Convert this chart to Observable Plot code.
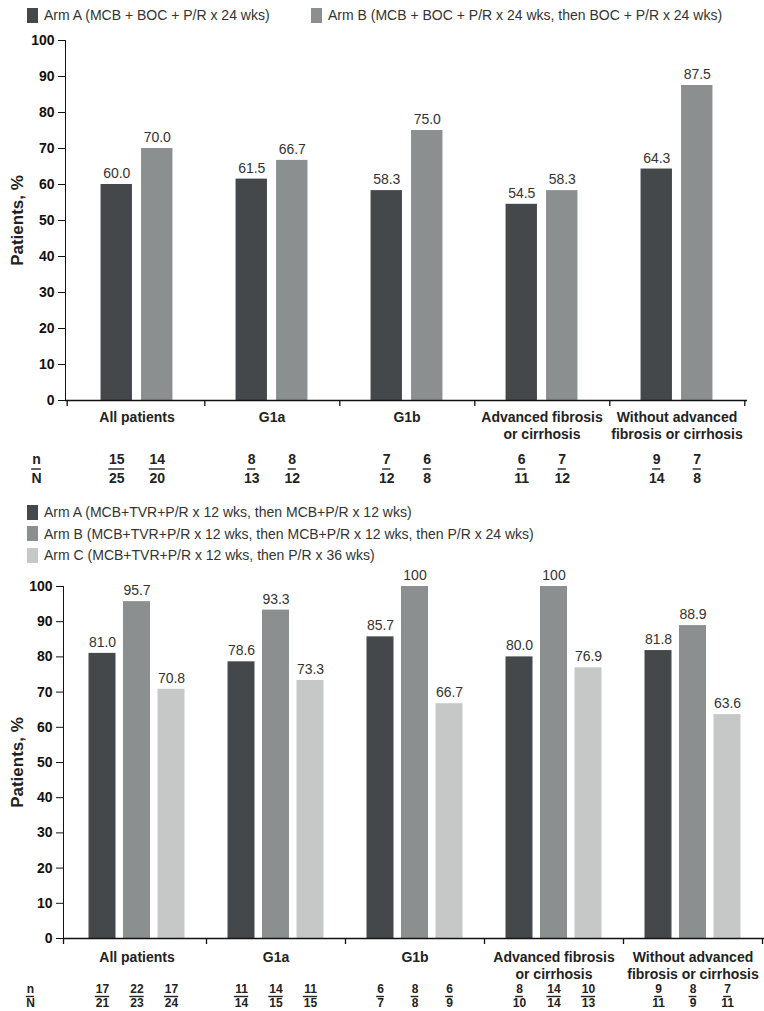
<!DOCTYPE html>
<html><head><meta charset="utf-8">
<script src="https://cdn.jsdelivr.net/npm/d3@7"></script>
<script src="https://cdn.jsdelivr.net/npm/@observablehq/plot@0.6"></script>
<style>
body{margin:0;background:#fff;}
#root{position:relative;width:764px;height:1011px;overflow:hidden;font-family:"Liberation Sans",Arial,sans-serif;}
.leg{position:absolute;display:flex;align-items:center;font-size:14px;color:#333;white-space:nowrap;}
.sw{width:11px;height:15px;margin-right:6px;}
.chart{position:absolute;left:0;}
</style></head><body><div id="root"></div>
<script>
// ---------- data ----------
const categories = ["All patients", "G1a", "G1b", "Advanced fibrosis\nor cirrhosis", "Without advanced\nfibrosis or cirrhosis"];

// Top chart
const topArms = ["Arm A (MCB + BOC + P/R x 24 wks)", "Arm B (MCB + BOC + P/R x 24 wks, then BOC + P/R x 24 wks)"];
const topArmA = [60.0, 61.5, 58.3, 54.5, 64.3];
const topArmB = [70.0, 66.7, 75.0, 58.3, 87.5];
const topArmA_n = [15, 8, 7, 6, 9];
const topArmA_N = [25, 13, 12, 11, 14];
const topArmB_n = [14, 8, 6, 7, 7];
const topArmB_N = [20, 12, 8, 12, 8];

// Bottom chart
const botArms = ["Arm A (MCB+TVR+P/R x 12 wks, then MCB+P/R x 12 wks)", "Arm B (MCB+TVR+P/R x 12 wks, then MCB+P/R x 12 wks, then P/R x 24 wks)", "Arm C (MCB+TVR+P/R x 12 wks, then P/R x 36 wks)"];
const botArmA = [81.0, 78.6, 85.7, 80.0, 81.8];
const botArmB = [95.7, 93.3, 100, 100, 88.9];
const botArmC = [70.8, 73.3, 66.7, 76.9, 63.6];
const botArmA_n = [17, 11, 6, 8, 9];
const botArmA_N = [21, 14, 7, 10, 11];
const botArmB_n = [22, 14, 8, 14, 8];
const botArmB_N = [23, 15, 8, 14, 9];
const botArmC_n = [17, 11, 6, 10, 7];
const botArmC_N = [24, 15, 9, 13, 11];

const yTicks = [0, 10, 20, 30, 40, 50, 60, 70, 80, 90, 100];
const yLabel = "Patients, %";
const rowLabels = ["n", "N"];

const armColors = ["#45484b", "#8c8f90", "#c6c7c7"];
const FONT = '"Liberation Sans", Arial, sans-serif';

// ---------- drawing ----------
const root = document.getElementById("root");

function legend(arms, top, rowGap, inline, lefts) {
  arms.forEach((a, i) => {
    const d = document.createElement("div");
    d.className = "leg";
    d.style.left = (inline ? lefts[i] : lefts[0]) + "px";
    d.style.top = (inline ? top : top + i * rowGap) + "px";
    d.innerHTML = `<span class="sw" style="background:${armColors[i]}"></span><span>${a}</span>`;
    root.appendChild(d);
  });
}

function chart(cfg) {
  const {values, ns, Ns, top, marginTop, plotH, marginBottom, marginLeft, marginRight, range, barW, step, off, fs} = cfg;
  const nArms = values.length;
  const bw = (range[1] - range[0]) / categories.length;
  const digitW = 0.556 * fs;
  const marks = [];
  const txt = {lineAnchor: "middle", textAnchor: "middle", fontSize: fs, fontWeight: "bold", fill: "#222", fontFamily: FONT};
  values.forEach((vals, a) => {
    const o = (a - (nArms - 1) / 2) * step;
    const data = categories.map((c, i) => ({cat: c, v: vals[i], n: ns[a][i], N: Ns[a][i]}));
    marks.push(Plot.barY(data, {x: "cat", y: "v", fill: armColors[a],
      insetLeft: bw / 2 - barW / 2 + o, insetRight: bw / 2 - barW / 2 - o}));
    marks.push(Plot.text(data, {x: "cat", y: "v", text: d => d.v === 100 ? "100" : d.v.toFixed(1),
      dx: o, dy: -11, fontSize: 14, fill: "#333", fontFamily: FONT}));
    marks.push(Plot.text(data, {x: "cat", frameAnchor: "bottom", text: d => String(d.n), dx: o, dy: off.n, ...txt}));
    marks.push(Plot.text(data, {x: "cat", frameAnchor: "bottom", text: d => String(d.N), dx: o, dy: off.N, ...txt}));
    // fraction lines (width follows the numerator's digit count)
    [1, 2].forEach(len => {
      const w = len * digitW + 1;
      marks.push(Plot.tickY(data.filter(d => String(d.n).length === len), {x: "cat", y: 0, dy: off.line,
        insetLeft: bw / 2 - w / 2 + o, insetRight: bw / 2 - w / 2 - o, stroke: "#222", strokeWidth: 1.4}));
    });
  });
  // category labels
  marks.push(Plot.text(categories, {x: d => d, text: d => d, frameAnchor: "bottom", dy: off.cat, lineAnchor: "top",
    lineHeight: 1.2, fontSize: 14, fontWeight: "bold", fill: "#222", fontFamily: FONT}));
  // n / N row labels
  marks.push(Plot.text([rowLabels[0]], {text: d => d, frameAnchor: "bottom-left", dx: off.rowX, dy: off.n, ...txt}));
  marks.push(Plot.text([rowLabels[1]], {text: d => d, frameAnchor: "bottom-left", dx: off.rowX, dy: off.N, ...txt}));
  {
    const cx = marginLeft + off.rowX, w = 0.611 * fs + 1;
    marks.push(Plot.ruleY([0], {dy: off.line, insetLeft: cx - w / 2 - marginLeft,
      insetRight: (764 - marginRight) - (cx + w / 2), stroke: "#222", strokeWidth: 1.4}));
  }
  // y label
  marks.push(Plot.text([yLabel], {text: d => d, frameAnchor: "left", textAnchor: "middle", rotate: -90, dx: off.yLabX,
    fontSize: 17, fontWeight: "bold", fill: "#222", fontFamily: FONT}));
  // x axis line and group separators
  marks.push(Plot.ruleY([0], {stroke: "#111", strokeWidth: 1.3}));
  marks.push(Plot.ruleX(categories, {x: d => d, dx: bw / 2, y1: 0, y2: 0, insetBottom: -6, stroke: "#111", strokeWidth: 1.3}));
  marks.push(Plot.ruleX([categories[0]], {x: d => d, dx: -bw / 2 - (range[0] - marginLeft), y1: 0, y2: 0, insetBottom: -6, stroke: "#111", strokeWidth: 1.3}));

  const svg = Plot.plot({
    width: 764,
    height: marginTop + plotH + marginBottom,
    marginTop, marginBottom, marginLeft, marginRight,
    style: {fontFamily: FONT, fontSize: "14px", color: "#111", background: "transparent", overflow: "visible"},
    x: {type: "band", domain: categories, range, padding: 0, axis: null},
    y: {domain: [0, 100], ticks: yTicks, tickSize: 7, tickPadding: 4, line: true, label: null},
    marks
  });
  d3.select(svg).selectAll('[aria-label^="y-axis"]').attr("font-weight", "bold").attr("font-size", 14).style("font-weight", "bold");
  svg.classList.add("chart");
  svg.style.top = top + "px";
  root.appendChild(svg);
}

legend(topArms, 7, 0, true, [27, 311]);
chart({
  values: [topArmA, topArmB], ns: [topArmA_n, topArmB_n], Ns: [topArmA_N, topArmB_N],
  top: 28, marginTop: 12, plotH: 360, marginBottom: 95, marginLeft: 65, marginRight: 17,
  range: [67, 745], barW: 32, step: 40.5, fs: 14,
  off: {cat: 10, n: 59, N: 78, line: 68.5, rowX: -29, yLabX: -48}
});

legend(botArms, 504, 21.5, false, [27]);
chart({
  values: [botArmA, botArmB, botArmC], ns: [botArmA_n, botArmB_n, botArmC_n], Ns: [botArmA_N, botArmB_N, botArmC_N],
  top: 560, marginTop: 26, plotH: 352, marginBottom: 73, marginLeft: 63, marginRight: 0,
  range: [67, 762], barW: 27, step: 34.5, fs: 12,
  off: {cat: 12, n: 51, N: 65, line: 58, rowX: -33, yLabX: -46}
});
</script></body></html>
